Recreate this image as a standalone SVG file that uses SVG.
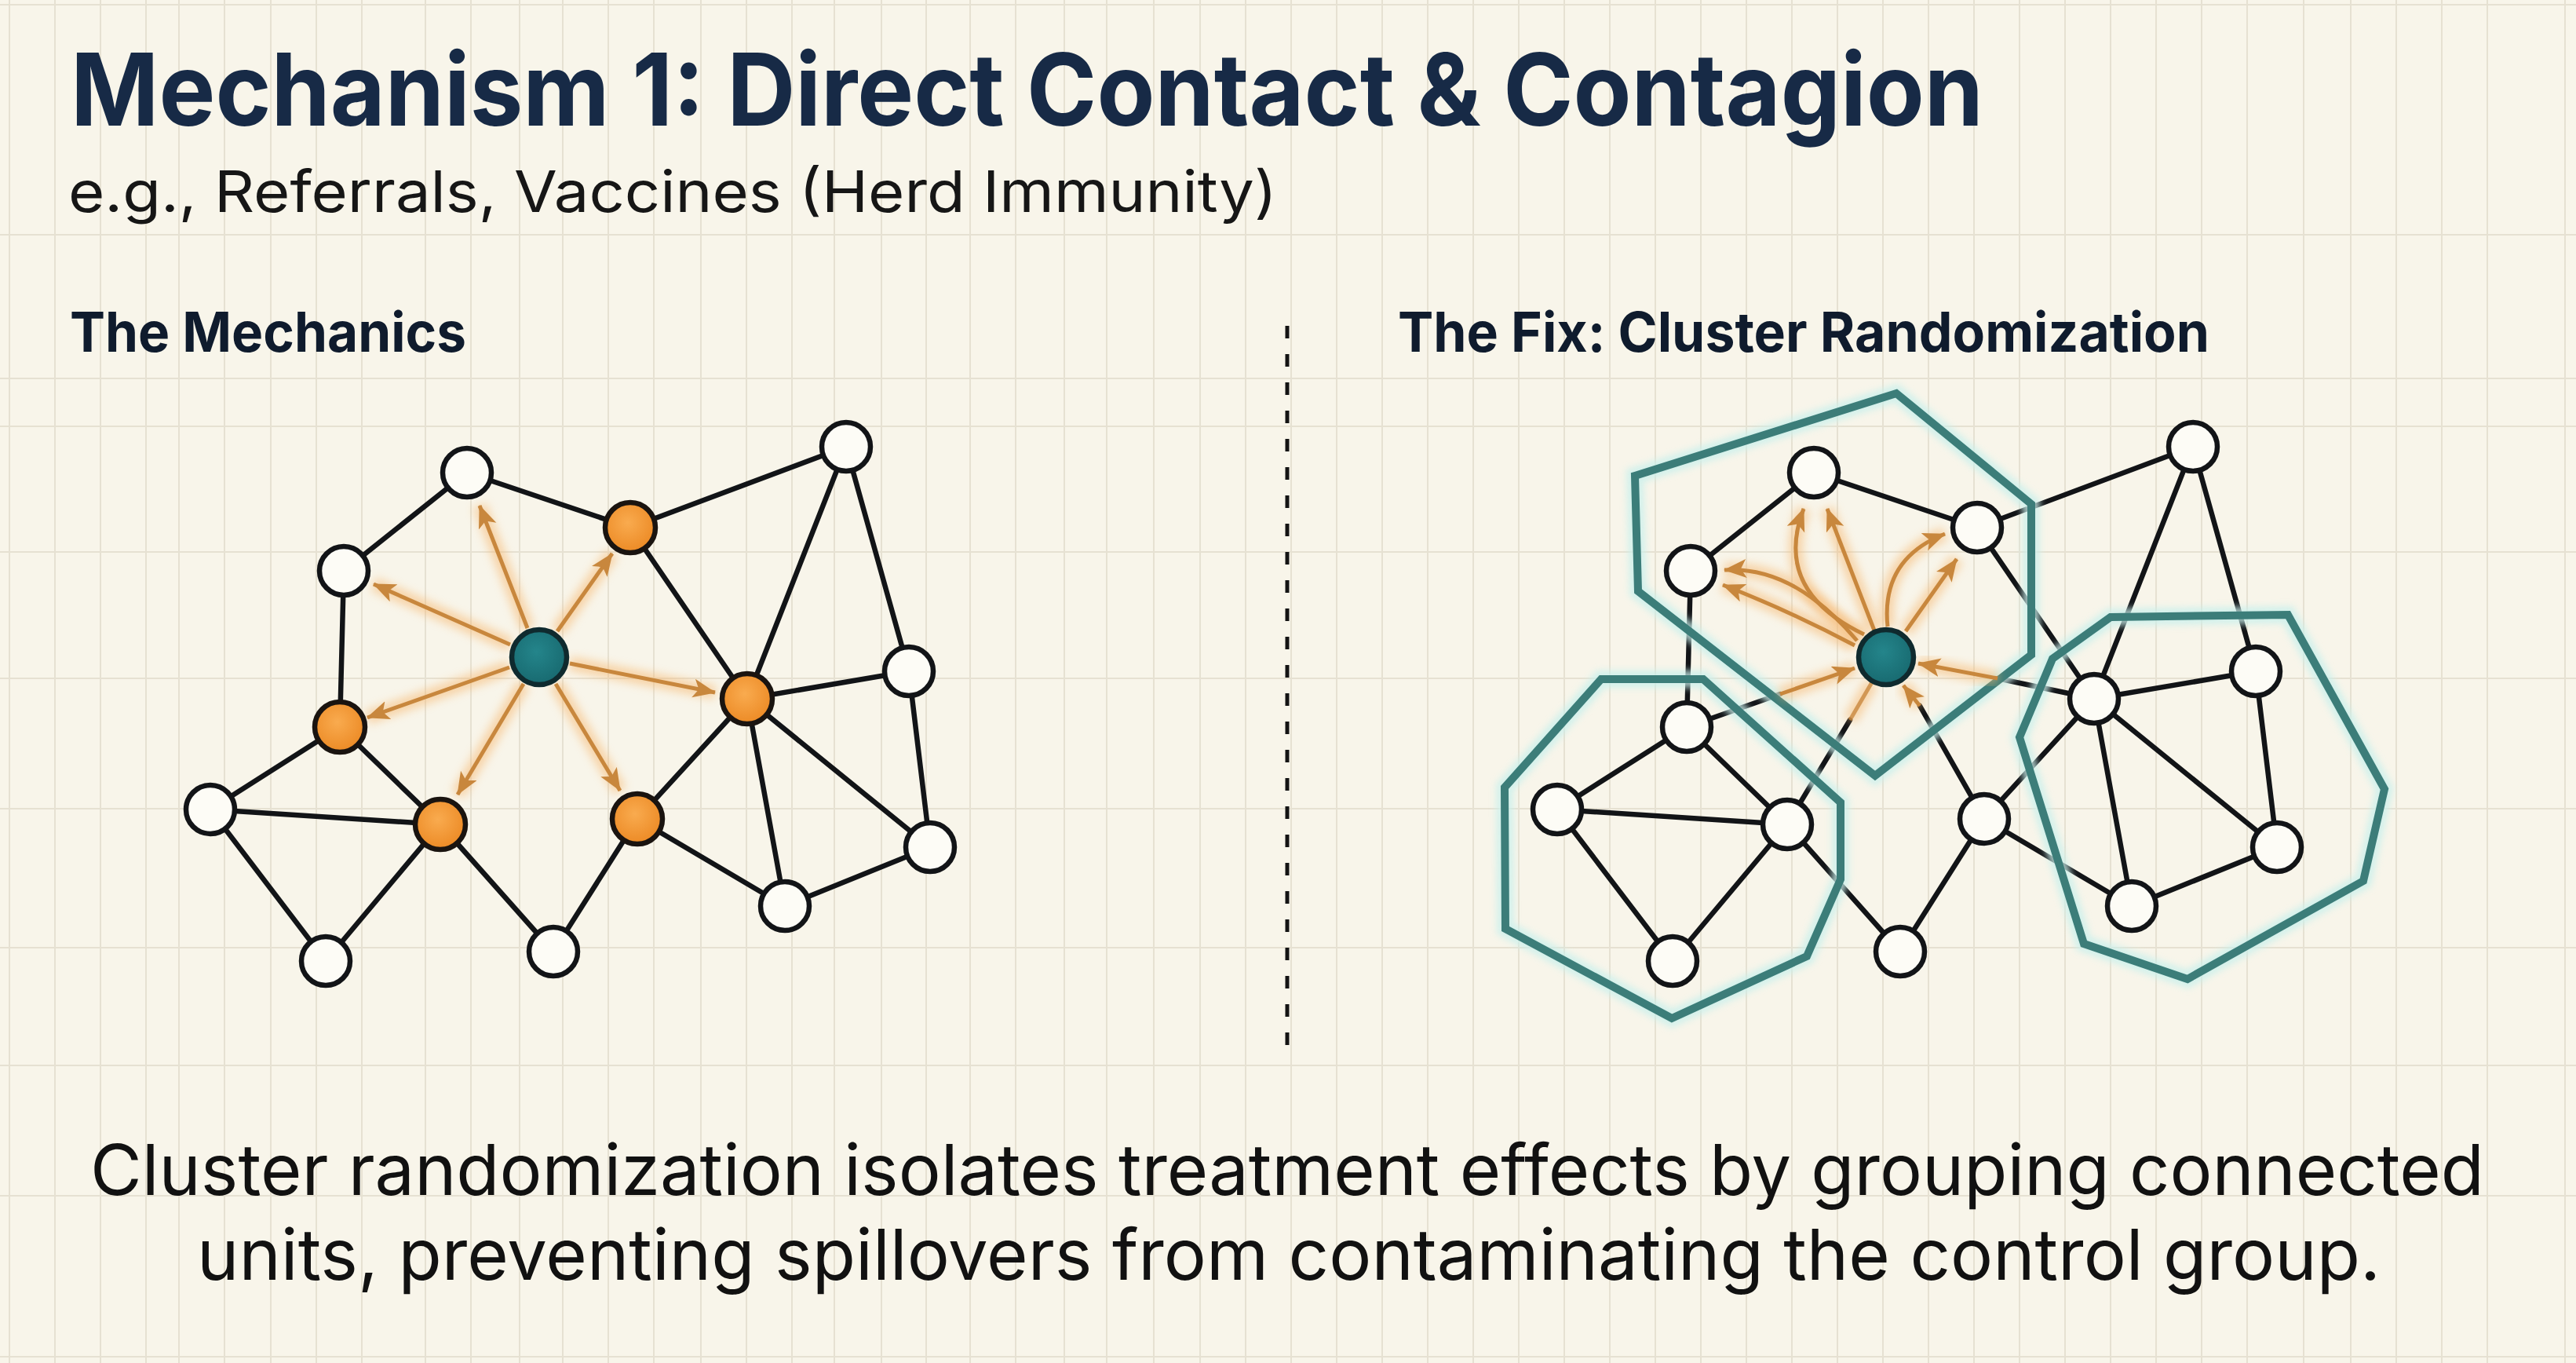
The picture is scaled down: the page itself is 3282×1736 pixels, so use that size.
<svg xmlns="http://www.w3.org/2000/svg" width="3282" height="1736" viewBox="0 0 3282 1736">
<style>
.bg{fill:#f8f5ea}
.grid{stroke:#e6e1d2;stroke-width:2;fill:none}
.title{font-family:Inter,"Liberation Sans",sans-serif;font-weight:700;fill:#172a46}
.sub{font-family:Inter,"Liberation Sans",sans-serif;font-weight:400;fill:#161616}
.head{font-family:Inter,"Liberation Sans",sans-serif;font-weight:700;fill:#0f1b2d}
.body{font-family:Inter,"Liberation Sans",sans-serif;font-weight:400;fill:#111111}
.edge{stroke:#121417;stroke-width:6.5;fill:none;stroke-linecap:round}
.nw{fill:#fdfcf6;stroke:#121417;stroke-width:6.5}
.no{fill:url(#og);stroke:#1a1410;stroke-width:6.5}
.nt{fill:url(#tg);stroke:#0f2a2e;stroke-width:6.5}
.arrow{stroke:#c8873d;stroke-width:5;fill:none;marker-end:url(#ah)}
.arrowplain{stroke:#c8873d;stroke-width:5;fill:none;opacity:0.8}
.glow{stroke:#f6b871;stroke-width:18;fill:none;opacity:0.55;filter:url(#blur)}
.hull{stroke:#3c7d79;stroke-width:10;fill:none;stroke-linejoin:miter}
.hullglow{stroke:#c9f0ec;stroke-width:22;fill:none;opacity:0.8;filter:url(#blur2)}
.divider{stroke:#141414;stroke-width:5;stroke-dasharray:16 20}
</style>
<defs>
<radialGradient id="og" cx="0.45" cy="0.4" r="0.6">
<stop offset="0" stop-color="#f9ab4f"/>
<stop offset="1" stop-color="#ec8a25"/>
</radialGradient>
<radialGradient id="tg" cx="0.45" cy="0.4" r="0.6">
<stop offset="0" stop-color="#24858b"/>
<stop offset="1" stop-color="#186a70"/>
</radialGradient>
<filter id="blur" x="-50%" y="-50%" width="200%" height="200%"><feGaussianBlur stdDeviation="6"/></filter>
<filter id="blur2" x="-20%" y="-20%" width="140%" height="140%"><feGaussianBlur stdDeviation="4"/></filter>
<marker id="ah" markerUnits="userSpaceOnUse" markerWidth="32" markerHeight="26" refX="28" refY="12" orient="auto">
<path d="M0,0 L29,12 L0,24 L7,12 z" fill="#c8873d"/>
</marker>
<path id="la1" d="M672,800 L611,644"/>
<path id="la2" d="M650,821 L476,744"/>
<path id="la3" d="M710,804 L780,705"/>
<path id="la4" d="M726,845 L911,882"/>
<path id="la5" d="M649,850 L468,914"/>
<path id="la6" d="M667,871 L583,1012"/>
<path id="la7" d="M708,871 L790,1007"/>
<path id="ra1" d="M2363,822 Q2280,778 2195,745"/>
<path id="ra2" d="M2366,816 Q2285,720 2197,726"/>
<path id="ra3" d="M2375,808 Q2258,752 2298,648"/>
<path id="ra4" d="M2388,803 L2328,648"/>
<path id="ra5" d="M2405,798 Q2396,712 2478,680"/>
<path id="ra6" d="M2428,804 L2493,712"/>
<path id="ra7" d="M2268,884 L2363,851"/>
<path id="ra8" d="M2545,864 L2444,845"/>
<path id="ra9" d="M2446,899 L2425,873"/>
<path id="ra10" d="M2357,917 L2385,869"/>
</defs>

<rect class="bg" x="0" y="0" width="3282" height="1736"/>
<g id="grid">
<path class="grid" d="M0,6 H3282 M0,299 H3282 M0,482 H3282 M0,543 H3282 M0,703 H3282 M0,864 H3282 M0,1030 H3282 M0,1207 H3282 M0,1357 H3282 M0,1523 H3282 M0,1728 H3282"/>
<path class="grid" d="M12,0 V1736 M70,0 V1736 M128,0 V1736 M186,0 V1736 M228,0 V1736 M286,0 V1736 M345,0 V1736 M403,0 V1736 M461,0 V1736 M542,0 V1736 M600,0 V1736 M662,0 V1736 M717,0 V1736 M775,0 V1736 M833,0 V1736 M893,0 V1736 M951,0 V1736 M1009,0 V1736 M1063,0 V1736 M1123,0 V1736 M1180,0 V1736 M1236,0 V1736 M1294,0 V1736 M1356,0 V1736 M1410,0 V1736 M1470,0 V1736 M1529,0 V1736 M1587,0 V1736 M1645,0 V1736 M1703,0 V1736 M1761,0 V1736 M1819,0 V1736 M1877,0 V1736 M1935,0 V1736 M1993,0 V1736 M2051,0 V1736 M2109,0 V1736 M2167,0 V1736 M2225,0 V1736 M2283,0 V1736 M2341,0 V1736 M2399,0 V1736 M2457,0 V1736 M2515,0 V1736 M2573,0 V1736 M2631,0 V1736 M2689,0 V1736 M2747,0 V1736 M2805,0 V1736 M2863,0 V1736 M2935,0 V1736 M2995,0 V1736 M3053,0 V1736 M3111,0 V1736 M3169,0 V1736 M3268,0 V1736"/>
</g>

<g id="texts">
<text class="title" x="90" y="160" font-size="128" textLength="2437" lengthAdjust="spacingAndGlyphs">Mechanism 1: Direct Contact &amp; Contagion</text>
<text class="sub" x="87" y="270" font-size="73" textLength="1540" lengthAdjust="spacingAndGlyphs">e.g., Referrals, Vaccines (Herd Immunity)</text>
<text class="head" x="89" y="448" font-size="70" textLength="505" lengthAdjust="spacingAndGlyphs">The Mechanics</text>
<text class="head" x="1781" y="448" font-size="70" textLength="1034" lengthAdjust="spacingAndGlyphs">The Fix: Cluster Randomization</text>
<text class="body" x="1640" y="1522" font-size="90" text-anchor="middle" textLength="3050" lengthAdjust="spacingAndGlyphs">Cluster randomization isolates treatment effects by grouping connected</text>
<text class="body" x="1642" y="1630" font-size="90" text-anchor="middle" textLength="2782" lengthAdjust="spacingAndGlyphs">units, preventing spillovers from contaminating the control group.</text>
</g>

<line id="divider" class="divider" x1="1640" y1="415" x2="1640" y2="1340"/>

<g id="connectors">
<g id="left-edges">
<path class="edge" d="M595,602 L438,727 M595,602 L803,672 M803,672 L1078,569 M803,672 L952,890 M1078,569 L952,890 M1078,569 L1158,855 M1158,855 L952,890 M1158,855 L1185,1079 M952,890 L1185,1079 M952,890 L1000,1154 M952,890 L812,1043 M438,727 L433,926 M433,926 L268,1031 M433,926 L561,1050 M268,1031 L561,1050 M268,1031 L415,1224 M415,1224 L561,1050 M561,1050 L705,1212 M705,1212 L812,1043 M812,1043 L1000,1154 M1000,1154 L1185,1079"/>
</g>
<g id="right-edges">
<path class="edge" d="M2311,602 L2154,727 M2311,602 L2519,672 M2519,672 L2794,569 M2519,672 L2668,890 M2794,569 L2668,890 M2794,569 L2874,855 M2874,855 L2668,890 M2874,855 L2901,1079 M2668,890 L2901,1079 M2668,890 L2716,1154 M2668,890 L2528,1043 M2154,727 L2149,926 M2149,926 L1984,1031 M2149,926 L2277,1050 M1984,1031 L2277,1050 M1984,1031 L2131,1224 M2131,1224 L2277,1050 M2277,1050 L2421,1212 M2421,1212 L2528,1043 M2528,1043 L2716,1154 M2716,1154 L2901,1079"/>
<path class="edge" d="M2149,926 L2268,884 M2668,890 L2545,864 M2528,1043 L2446,899 M2277,1050 L2357,917"/>
</g>
<g id="clusters">
<polygon class="hullglow" points="2083,606 2416,501 2588,642 2588,834 2389,988 2087,753"/>
<polygon class="hullglow" points="2040,865 2170,865 2345,1022 2345,1120 2302,1218 2130,1297 1918,1183 1917,1003"/>
<polygon class="hullglow" points="2689,786 2915,783 3038,1005 3011,1122 2787,1247 2655,1202 2573,939 2615,839"/>
<polygon id="cluster-top" class="hull" points="2083,606 2416,501 2588,642 2588,834 2389,988 2087,753"/>
<polygon id="cluster-left" class="hull" points="2040,865 2170,865 2345,1022 2345,1120 2302,1218 2130,1297 1918,1183 1917,1003"/>
<polygon id="cluster-right" class="hull" points="2689,786 2915,783 3038,1005 3011,1122 2787,1247 2655,1202 2573,939 2615,839"/>
</g>
<g id="spill-glow">
<use href="#la1" class="glow"/><use href="#la2" class="glow"/><use href="#la3" class="glow"/><use href="#la4" class="glow"/><use href="#la5" class="glow"/><use href="#la6" class="glow"/><use href="#la7" class="glow"/>
<use href="#ra1" class="glow"/><use href="#ra2" class="glow"/><use href="#ra3" class="glow"/><use href="#ra4" class="glow"/><use href="#ra5" class="glow"/><use href="#ra6" class="glow"/><use href="#ra7" class="glow"/><use href="#ra8" class="glow"/><use href="#ra9" class="glow"/><use href="#ra10" class="glow"/>
</g>
<g id="spill-arrows">
<use href="#la1" class="arrow"/><use href="#la2" class="arrow"/><use href="#la3" class="arrow"/><use href="#la4" class="arrow"/><use href="#la5" class="arrow"/><use href="#la6" class="arrow"/><use href="#la7" class="arrow"/>
<use href="#ra1" class="arrow"/><use href="#ra2" class="arrow"/><use href="#ra3" class="arrow"/><use href="#ra4" class="arrow"/><use href="#ra5" class="arrow"/><use href="#ra6" class="arrow"/><use href="#ra7" class="arrow"/><use href="#ra8" class="arrow"/><use href="#ra9" class="arrow"/>
<use href="#ra10" class="arrowplain"/>
</g>
</g>

<g id="left-nodes">
<g id="L-A"><circle class="nw" cx="595" cy="602" r="31"/></g>
<g id="L-B"><circle class="nw" cx="438" cy="727" r="31"/></g>
<g id="L-C"><circle class="no" cx="803" cy="672" r="32"/></g>
<g id="L-D"><circle class="nw" cx="1078" cy="569" r="31"/></g>
<g id="L-E"><circle class="nt" cx="687" cy="837" r="35"/></g>
<g id="L-F"><circle class="no" cx="952" cy="890" r="32"/></g>
<g id="L-G"><circle class="nw" cx="1158" cy="855" r="31"/></g>
<g id="L-H"><circle class="no" cx="433" cy="926" r="32"/></g>
<g id="L-I"><circle class="nw" cx="268" cy="1031" r="31"/></g>
<g id="L-J"><circle class="no" cx="561" cy="1050" r="32"/></g>
<g id="L-K"><circle class="no" cx="812" cy="1043" r="32"/></g>
<g id="L-L"><circle class="nw" cx="1185" cy="1079" r="31"/></g>
<g id="L-M"><circle class="nw" cx="1000" cy="1154" r="31"/></g>
<g id="L-N"><circle class="nw" cx="415" cy="1224" r="31"/></g>
<g id="L-O"><circle class="nw" cx="705" cy="1212" r="31"/></g>
</g>

<g id="right-nodes">
<g id="R-A"><circle class="nw" cx="2311" cy="602" r="31"/></g>
<g id="R-B"><circle class="nw" cx="2154" cy="727" r="31"/></g>
<g id="R-C"><circle class="nw" cx="2519" cy="672" r="31"/></g>
<g id="R-D"><circle class="nw" cx="2794" cy="569" r="31"/></g>
<g id="R-E"><circle class="nt" cx="2403" cy="837" r="35"/></g>
<g id="R-F"><circle class="nw" cx="2668" cy="890" r="31"/></g>
<g id="R-G"><circle class="nw" cx="2874" cy="855" r="31"/></g>
<g id="R-H"><circle class="nw" cx="2149" cy="926" r="31"/></g>
<g id="R-I"><circle class="nw" cx="1984" cy="1031" r="31"/></g>
<g id="R-J"><circle class="nw" cx="2277" cy="1050" r="31"/></g>
<g id="R-K"><circle class="nw" cx="2528" cy="1043" r="31"/></g>
<g id="R-L"><circle class="nw" cx="2901" cy="1079" r="31"/></g>
<g id="R-M"><circle class="nw" cx="2716" cy="1154" r="31"/></g>
<g id="R-N"><circle class="nw" cx="2131" cy="1224" r="31"/></g>
<g id="R-O"><circle class="nw" cx="2421" cy="1212" r="31"/></g>
</g>
</svg>
